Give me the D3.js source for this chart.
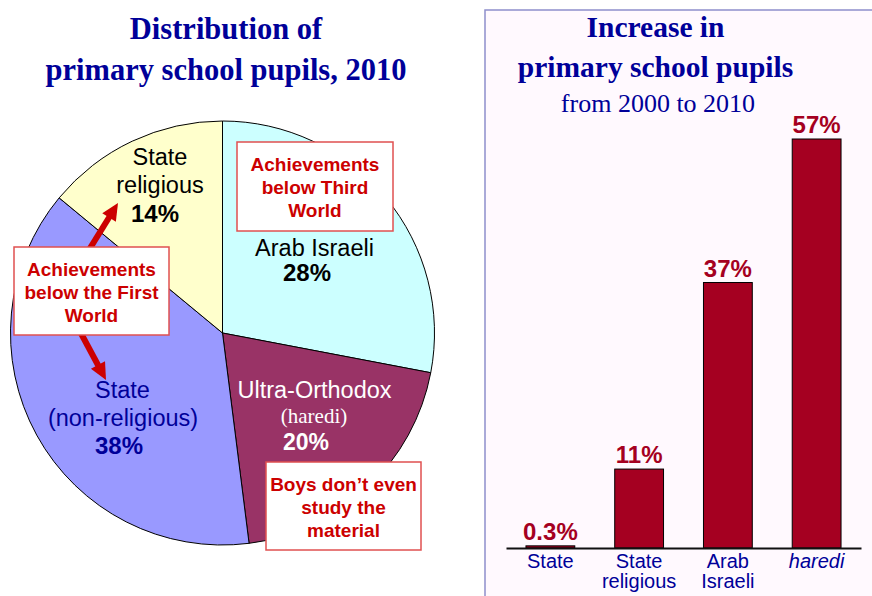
<!DOCTYPE html>
<html>
<head>
<meta charset="utf-8">
<script src="https://cdn.jsdelivr.net/npm/d3@7"></script>
<style>
  html, body { margin: 0; padding: 0; background: #ffffff; }
  svg { display: block; }
</style>
</head>
<body>
<svg id="chart" width="872" height="596"></svg>
<script>
// ---- Data ----
const pieCategories = ["Arab Israeli", "Ultra-Orthodox", "State (non-religious)", "State religious"];
const pieValues = [28, 20, 38, 14];
const pieColors = ["#CCFFFF", "#993366", "#9999FF", "#FFFFCC"];

const barCategories = ["State", "State religious", "Arab Israeli", "haredi"];
const barValues = [0.3, 11, 37, 57];
const barValueLabels = ["0.3%", "11%", "37%", "57%"];

const leftTitle = ["Distribution of", "primary school pupils, 2010"];
const rightTitle = ["Increase in", "primary school pupils"];
const rightSubtitle = "from 2000 to 2010";

const svg = d3.select("#chart");
const NAVY = "#000099";
const RED = "#CC0000";
const BAR = "#A50021";

// ---- Right panel background ----
svg.append("rect")
  .attr("x", 485).attr("y", 10).attr("width", 400).attr("height", 600)
  .attr("fill", "#FFF9FE").attr("stroke", "#8F8FCC").attr("stroke-width", 1.5);

// ---- Left title ----
svg.selectAll("text.ltitle").data(leftTitle).enter().append("text")
  .attr("x", 226).attr("y", (d, i) => 39 + i * 41)
  .attr("text-anchor", "middle")
  .attr("font-family", "'Liberation Serif', 'Times New Roman', serif")
  .attr("font-weight", "bold").attr("font-size", 30.5)
  .attr("fill", NAVY).text(d => d);

// ---- Pie ----
const cx = 222.5, cy = 333, R = 212;
const pie = d3.pie().sort(null).value(d => d.v).startAngle(0).endAngle(2 * Math.PI);
const arc = d3.arc().innerRadius(0).outerRadius(R);
const pieData = pieCategories.map((c, i) => ({ c, v: pieValues[i], col: pieColors[i] }));
const pg = svg.append("g").attr("transform", `translate(${cx},${cy})`);
pg.selectAll("path").data(pie(pieData)).enter().append("path")
  .attr("d", arc)
  .attr("fill", d => d.data.col)
  .attr("stroke", "#000").attr("stroke-width", 1);

const SANS = "'Liberation Sans', Arial, sans-serif";
const SERIF = "'Liberation Serif', 'Times New Roman', serif";
function label(x, y, txt, opts) {
  svg.append("text").attr("x", x).attr("y", y)
    .attr("text-anchor", "middle")
    .attr("font-family", opts.family || SANS)
    .attr("font-size", opts.size || (opts.bold ? 24 : 23.5))
    .attr("font-weight", opts.bold ? "bold" : "normal")
    .attr("font-style", opts.italic ? "italic" : "normal")
    .attr("fill", opts.fill || "#000")
    .text(txt);
}
// State religious
label(160, 165, "State", {});
label(160, 193, "religious", {});
label(155, 222, pieValues[3] + "%", { bold: true });
// Arab Israeli
label(314.5, 256, "Arab Israeli", {});
label(307, 281, pieValues[0] + "%", { bold: true });
// State non-religious
label(122.5, 398, "State", { fill: NAVY });
label(123, 426, "(non-religious)", { fill: NAVY });
label(119, 454, pieValues[2] + "%", { bold: true, fill: NAVY });
// Ultra-Orthodox
label(314.5, 398, "Ultra-Orthodox", { fill: "#fff" });
label(314, 423, "(haredi)", { fill: "#fff", family: SERIF, size: 21 });
label(306, 450, pieValues[1] + "%", { bold: true, fill: "#fff", size: 23 });

// ---- Arrows ----
function arrow(x1, y1, x2, y2) {
  const dx = x2 - x1, dy = y2 - y1, L = Math.hypot(dx, dy);
  const ux = dx / L, uy = dy / L, nx = -uy, ny = ux;
  const hl = 17, hw = 8;
  const bx = x2 - ux * hl, by = y2 - uy * hl;
  svg.append("line").attr("x1", x1).attr("y1", y1).attr("x2", bx + ux * 2).attr("y2", by + uy * 2)
    .attr("stroke", RED).attr("stroke-width", 6);
  svg.append("path")
    .attr("d", `M${x2},${y2}L${bx + nx * hw},${by + ny * hw}L${bx - nx * hw},${by - ny * hw}Z`)
    .attr("fill", RED);
}
arrow(84, 258, 118, 203);
arrow(76, 324, 106, 380);

// ---- Callout boxes ----
function box(x, y, w, h, lines, baseY) {
  svg.append("rect").attr("x", x).attr("y", y).attr("width", w).attr("height", h)
    .attr("fill", "#fff").attr("stroke", "#E05050").attr("stroke-width", 1.5);
  lines.forEach((t, i) => {
    svg.append("text").attr("x", x + w / 2).attr("y", baseY + i * 23.2)
      .attr("text-anchor", "middle").attr("font-family", SANS)
      .attr("font-weight", "bold").attr("font-size", 19)
      .attr("fill", RED).text(t);
  });
}
box(237, 142, 156, 89, ["Achievements", "below Third", "World"], 171);
box(14, 247, 155, 88, ["Achievements", "below the First", "World"], 275.5);
box(266, 462, 155, 88, ["Boys don\u2019t even", "study the", "material"], 490.5);

// ---- Right title ----
svg.selectAll("text.rtitle").data(rightTitle).enter().append("text")
  .attr("x", 655.5).attr("y", (d, i) => 37 + i * 40)
  .attr("text-anchor", "middle").attr("font-family", SERIF)
  .attr("font-weight", "bold").attr("font-size", 29.5)
  .attr("fill", NAVY).text(d => d);
svg.append("text").attr("x", 658).attr("y", 112)
  .attr("text-anchor", "middle").attr("font-family", SERIF)
  .attr("font-size", 26).attr("fill", NAVY).text(rightSubtitle);

// ---- Bars ----
const x = d3.scaleBand().domain(barCategories).range([506, 861])
  .paddingInner(0.45).paddingOuter(0.225);
const y = d3.scaleLinear().domain([0, 57]).range([548, 139]);

svg.selectAll("rect.bar").data(barValues).enter().append("rect")
  .attr("class", "bar")
  .attr("x", (d, i) => x(barCategories[i]))
  .attr("y", d => y(d))
  .attr("width", x.bandwidth())
  .attr("height", d => y(0) - y(d))
  .attr("fill", BAR).attr("stroke", "#000").attr("stroke-width", 1);

svg.selectAll("text.vlab").data(barValues).enter().append("text")
  .attr("x", (d, i) => x(barCategories[i]) + x.bandwidth() / 2)
  .attr("y", d => y(d) - 6)
  .attr("text-anchor", "middle").attr("font-family", SANS)
  .attr("font-weight", "bold").attr("font-size", 24)
  .attr("fill", BAR).text((d, i) => barValueLabels[i]);

// Axis baseline
const axis = d3.axisBottom(x).tickSize(0).tickFormat("");
const ag = svg.append("g").attr("transform", `translate(0,${y(0)})`).call(axis);
ag.select(".domain").attr("stroke", "#111").attr("stroke-width", 2);

// Category labels
const catLines = { "State": ["State"], "State religious": ["State", "religious"], "Arab Israeli": ["Arab", "Israeli"], "haredi": ["haredi"] };
barCategories.forEach(c => {
  catLines[c].forEach((t, j) => {
    svg.append("text")
      .attr("x", x(c) + x.bandwidth() / 2).attr("y", 568 + j * 20)
      .attr("text-anchor", "middle").attr("font-family", SANS)
      .attr("font-size", 20)
      .attr("font-style", c === "haredi" ? "italic" : "normal")
      .attr("fill", NAVY).text(t);
  });
});
</script>
</body>
</html>
